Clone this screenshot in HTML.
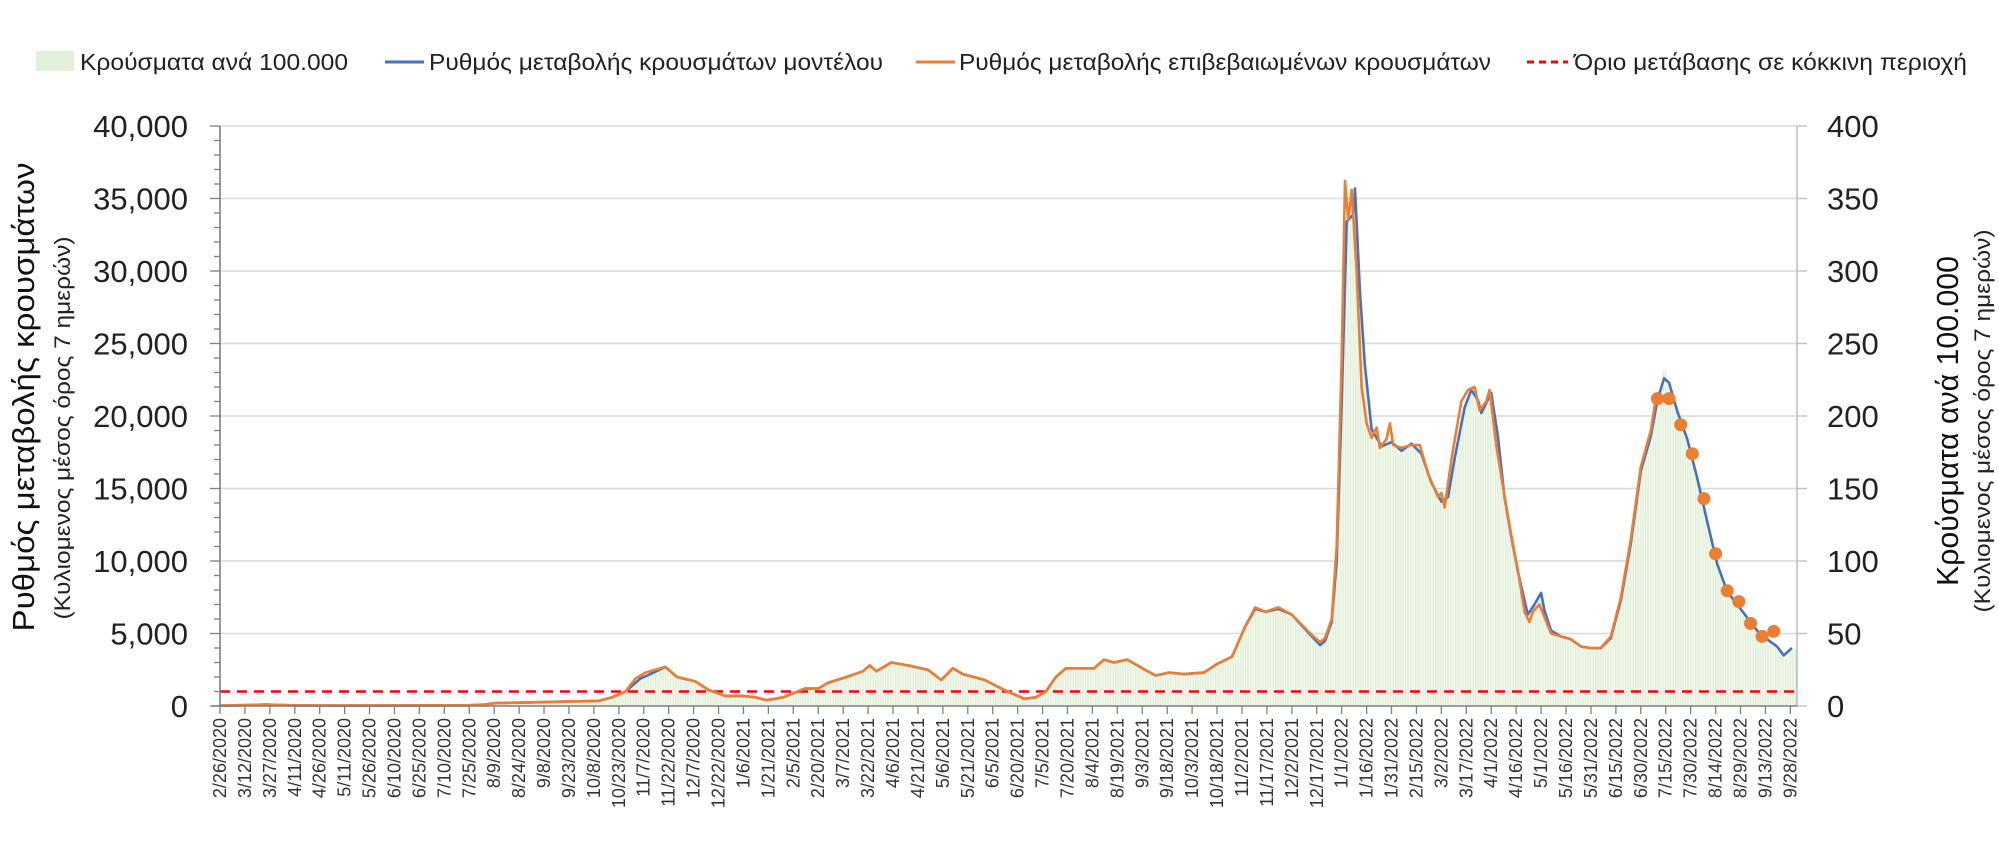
<!DOCTYPE html>
<html><head><meta charset="utf-8">
<style>
html,body{margin:0;padding:0;background:#fff;}
svg{display:block;font-family:"Liberation Sans",sans-serif;}
</style></head>
<body>
<svg id="chart" width="1999" height="854" viewBox="0 0 1999 854" xmlns="http://www.w3.org/2000/svg">
<defs>
<pattern id="barpat" width="2.5" height="10" patternUnits="userSpaceOnUse">
<rect x="0" y="0" width="2.5" height="10" fill="#f3f9ef"/>
<rect x="0" y="0" width="1.2" height="10" fill="#e1eed6"/>
</pattern>
</defs>
<g id="legend">
<g>
<rect x="36" y="51" width="38" height="20" fill="#e2efda"/>
<text x="80" y="70" font-size="23" fill="#222" textLength="268" lengthAdjust="spacingAndGlyphs">Κρούσματα ανά 100.000</text>
</g>
<g>
<line x1="385" y1="62" x2="424" y2="62" stroke="#4472c4" stroke-width="3"/>
<text x="429" y="70" font-size="23" fill="#222" textLength="454" lengthAdjust="spacingAndGlyphs">Ρυθμός μεταβολής κρουσμάτων μοντέλου</text>
</g>
<g>
<line x1="916" y1="62" x2="955" y2="62" stroke="#ed7d31" stroke-width="3"/>
<text x="959" y="70" font-size="23" fill="#222" textLength="532" lengthAdjust="spacingAndGlyphs">Ρυθμός μεταβολής επιβεβαιωμένων κρουσμάτων</text>
</g>
<g>
<line x1="1527" y1="62" x2="1568" y2="62" stroke="#ff0000" stroke-width="3" stroke-dasharray="7,5"/>
<text x="1574" y="70" font-size="23" fill="#222" textLength="393" lengthAdjust="spacingAndGlyphs">Όριο μετάβασης σε κόκκινη περιοχή</text>
</g>
</g>
<g id="grid"></g>
<g id="bars"></g>
<g id="lines"></g>
<g id="axes"></g>
<text transform="translate(34,397) rotate(-90)" text-anchor="middle" font-size="31" fill="#111" textLength="469" lengthAdjust="spacingAndGlyphs">Ρυθμός μεταβολής κρουσμάτων</text>
<text transform="translate(70,428) rotate(-90)" text-anchor="middle" font-size="22" fill="#222" textLength="383" lengthAdjust="spacingAndGlyphs">(Κυλιομενος μέσος όρος 7 ημερών)</text>
<text transform="translate(1958,421) rotate(-90)" text-anchor="middle" font-size="31" fill="#111" textLength="330" lengthAdjust="spacingAndGlyphs">Κρούσματα ανά 100.000</text>
<text transform="translate(1990,421) rotate(-90)" text-anchor="middle" font-size="22" fill="#222" textLength="383" lengthAdjust="spacingAndGlyphs">(Κυλιομενος μέσος όρος 7 ημερών)</text>
</svg>
<script>
// ---- data ----
const startDate = [2020, 1, 26]; // 2/26/2020 (day 0)
const modelDays = [0,14,28,42,60,90,120,150,159,166,186,207,228,236,244,253,259,268,275,286,294,304,315,322,329,339,352,360,366,377,387,391,395,404,414,426,434,441,447,460,472,484,491,497,503,509,526,532,538,546,555,563,571,580,592,600,609,617,623,629,637,645,657,662,665,669,672,675,678,682,683,686,689,693,699,705,711,717,723,729,735,739,743,749,753,757,759,765,769,773,777,781,787,791,795,797,801,807,813,819,825,831,837,843,849,855,861,865,869,872,877,883,889,895,901,907,913,919,925,931,937,941,946];
const modelValues = [0.02,0.05,0.1,0.05,0.03,0.03,0.04,0.05,0.1,0.2,0.25,0.3,0.35,0.6,1.0,1.9,2.2,2.7,2.0,1.7,1.1,0.7,0.7,0.6,0.4,0.6,1.2,1.2,1.6,2.0,2.4,2.8,2.4,3.0,2.8,2.5,1.8,2.6,2.2,1.8,1.1,0.5,0.6,1.0,2.0,2.6,2.6,3.2,3.0,3.2,2.6,2.1,2.3,2.2,2.3,2.9,3.4,5.5,6.7,6.5,6.7,6.3,4.8,4.2,4.5,5.8,10,21,33.4,33.9,35.7,28.5,23.5,19.1,17.9,18.2,17.6,18.1,17.4,15.4,14.1,14.4,17.1,20.6,21.8,21.1,20.2,21.6,18.6,14.4,11.7,9.3,6.3,7.0,7.8,6.6,5.2,4.8,4.6,4.1,4.0,4.0,4.7,7.3,11.2,16.2,18.6,21.1,22.6,22.3,20.3,18.4,15.7,12.7,9.8,7.9,7.0,6.1,5.2,4.6,4.1,3.5,4.0];
const confDays = [0,14,28,42,60,90,120,150,159,166,186,207,228,236,244,250,256,268,275,286,294,304,315,322,329,339,352,360,366,377,387,391,395,404,414,426,434,441,447,460,472,484,491,497,503,509,526,532,538,546,555,563,571,580,592,600,609,617,623,629,637,645,657,662,665,669,672,675,677,679,681,684,687,690,693,696,698,702,704,706,711,717,722,727,733,735,737,741,747,751,755,758,762,764,768,773,777,781,785,788,790,794,801,807,813,819,825,831,837,843,849,855,861,864];
const confValues = [0.02,0.06,0.1,0.05,0.03,0.03,0.04,0.05,0.1,0.2,0.25,0.3,0.35,0.6,1.0,1.9,2.3,2.7,2.0,1.7,1.1,0.7,0.7,0.6,0.4,0.6,1.2,1.2,1.6,2.0,2.4,2.8,2.4,3.0,2.8,2.5,1.8,2.6,2.2,1.8,1.1,0.5,0.6,1.0,2.0,2.6,2.6,3.2,3.0,3.2,2.6,2.1,2.3,2.2,2.3,2.9,3.4,5.5,6.8,6.5,6.8,6.3,4.9,4.4,4.7,6.0,11,24,36.2,33.5,35.6,30,22,19.5,18.5,19.2,17.8,18.4,19.5,18.0,17.8,18.0,18.0,16,14.4,14.7,13.7,17,21,21.8,22.0,20.4,21.0,21.8,18,14.5,11.8,9.4,6.5,5.8,6.5,7.0,5.0,4.8,4.6,4.1,4.0,4.0,4.8,7.5,11.5,16.5,19.0,21.2];
const dotDays = [865,872,879,886,893,900,907,914,921,928,935];
const dotValues = [21.2,21.2,19.4,17.4,14.3,10.5,7.95,7.2,5.7,4.8,5.15];
// cases per 100k (right axis)
const barDays = [0,14,28,42,60,90,120,150,159,166,186,207,228,236,244,253,259,268,275,286,294,304,315,322,329,339,352,360,366,377,387,391,395,404,414,426,434,441,447,460,472,484,491,497,503,509,526,532,538,546,555,563,571,580,592,600,609,617,623,629,637,645,657,662,665,669,672,675,678,682,683,686,689,693,699,705,711,717,723,729,735,739,743,749,753,757,759,765,769,773,777,781,787,791,795,797,801,807,813,819,825,831,837,843,849,855,861,865,869,872,877,883,889,895,901,907,913,919,925,931,937,941,949];
const barValues = [0.2,0.5,1,0.5,0.3,0.3,0.4,0.5,1,2,2.5,3,3.5,6,10,19,22,27,20,17,11,7,7,6,4,6,12,12,16,20,24,28,24,30,28,25,18,26,22,18,11,5,6,10,20,26,26,32,30,32,26,21,23,22,23,29,34,55,67,65,67,63,48,42,45,58,100,210,334,339,357,285,235,191,179,182,176,181,174,154,141,144,171,206,218,211,202,216,186,144,117,93,63,70,78,66,52,48,46,41,40,40,47,73,112,162,186,211,235,223,203,184,157,127,98,79,70,61,52,46,41,35,40];
const thresholdValue = 1.0; // thousand cases
const leftTicks = [0,5,10,15,20,25,30,35,40];
const leftTickLabels = ["0","5,000","10,000","15,000","20,000","25,000","30,000","35,000","40,000"];
const rightTickLabels = ["0","50","100","150","200","250","300","350","400"];
const xTickStepDays = 15;
const xTickCount = 64;

// ---- scales ----
const X0 = 220, X1 = 1797, DAYS = 949;
const Y0 = 706, Y1 = 126, VMAX = 40;
function xs(d){ return X0 + d * (X1 - X0) / DAYS; }
function ys(v){ return Y0 - v * (Y0 - Y1) / VMAX; }
function yr(p){ return ys(p / 10); } // per-100k -> thousand cases scale
const NS = "http://www.w3.org/2000/svg";
function mk(tag, attrs, parent){ const e = document.createElementNS(NS, tag); for (const k in attrs) e.setAttribute(k, attrs[k]); parent.appendChild(e); return e; }

const grid = document.getElementById('grid');
leftTicks.forEach((t) => {
  if (t === 0) return;
  const g = mk('line', {x1: X0, x2: X1, y1: ys(t), y2: ys(t), stroke: '#d9d9d9', 'stroke-width': 1.6}, grid);
  
  
});

// bars (drawn as dense striped area under the per-100k values)
const bars = document.getElementById('bars');
let bd = 'M' + xs(barDays[0]).toFixed(1) + ',' + Y0;
barDays.forEach((d, i) => { bd += 'L' + xs(d).toFixed(1) + ',' + yr(barValues[i]).toFixed(1); });
bd += 'L' + xs(barDays[barDays.length - 1]).toFixed(1) + ',' + Y0 + 'Z';
const ba = mk('path', {d: bd, fill: 'url(#barpat)'}, bars);



const lines = document.getElementById('lines');
const th = mk('line', {x1: X0, x2: X1, y1: ys(thresholdValue), y2: ys(thresholdValue), stroke: '#ff0000', 'stroke-width': 2.5, 'stroke-dasharray': '10,7'}, lines);



function path(days, vals){ return days.map((d, i) => (i ? 'L' : 'M') + xs(d).toFixed(1) + ',' + ys(vals[i]).toFixed(1)).join(''); }
const mp = mk('path', {d: path(modelDays, modelValues), fill: 'none', stroke: '#4472c4', 'stroke-width': 2.6, 'stroke-linejoin': 'round'}, lines);


const cp = mk('path', {d: path(confDays, confValues), fill: 'none', stroke: '#ed7d31', 'stroke-width': 2.6, 'stroke-linejoin': 'round'}, lines);


dotDays.forEach((d, i) => {
  const c = mk('circle', {cx: xs(d), cy: ys(dotValues[i]), r: 6.5, fill: '#ed7d31'}, lines);
  
  
});

// axes
const axes = document.getElementById('axes');
mk('line', {x1: X0, x2: X0, y1: Y1, y2: Y0 + 1, stroke: '#7f7f7f', 'stroke-width': 1.6}, axes);
mk('line', {x1: X1, x2: X1, y1: Y1, y2: Y0, stroke: '#bfbfbf', 'stroke-width': 1.6}, axes);
mk('line', {x1: X0 - 8, x2: X1, y1: Y0, y2: Y0, stroke: '#7f7f7f', 'stroke-width': 1.6}, axes);
for (let v = 0; v <= 40; v++) {
  const major = v % 5 === 0;
  mk('line', {x1: major ? X0 - 10 : X0 - 6, x2: X0, y1: ys(v), y2: ys(v), stroke: '#7f7f7f', 'stroke-width': 1.3}, axes);
}
leftTicks.forEach((t, i) => {
  const l = mk('text', {x: 188, y: ys(t) + 11, 'text-anchor': 'end', 'font-size': 31, fill: '#222'}, axes);
  l.textContent = leftTickLabels[i];
  
  
  mk('line', {x1: X1, x2: X1 + 10, y1: ys(t), y2: ys(t), stroke: '#bfbfbf', 'stroke-width': 1.4}, axes);
  const r = mk('text', {x: 1827, y: ys(t) + 11, 'font-size': 31, fill: '#222'}, axes);
  r.textContent = rightTickLabels[i];
  
  
});
for (let i = 0; i < xTickCount; i++) {
  const d = i * xTickStepDays;
  const dt = new Date(startDate[0], startDate[1], startDate[2] + d);
  const lab = (dt.getMonth() + 1) + '/' + dt.getDate() + '/' + dt.getFullYear();
  const x = xs(d);
  mk('line', {x1: x, x2: x, y1: Y0, y2: Y0 + 8, stroke: '#7f7f7f', 'stroke-width': 1.3}, axes);
  const t = mk('text', {transform: 'translate(' + (x + 6).toFixed(1) + ',' + (Y0 + 12) + ') rotate(-90)', 'text-anchor': 'end', 'font-size': 18, fill: '#333'}, axes);
  t.textContent = lab;
  
  
}
</script>
</body></html>
